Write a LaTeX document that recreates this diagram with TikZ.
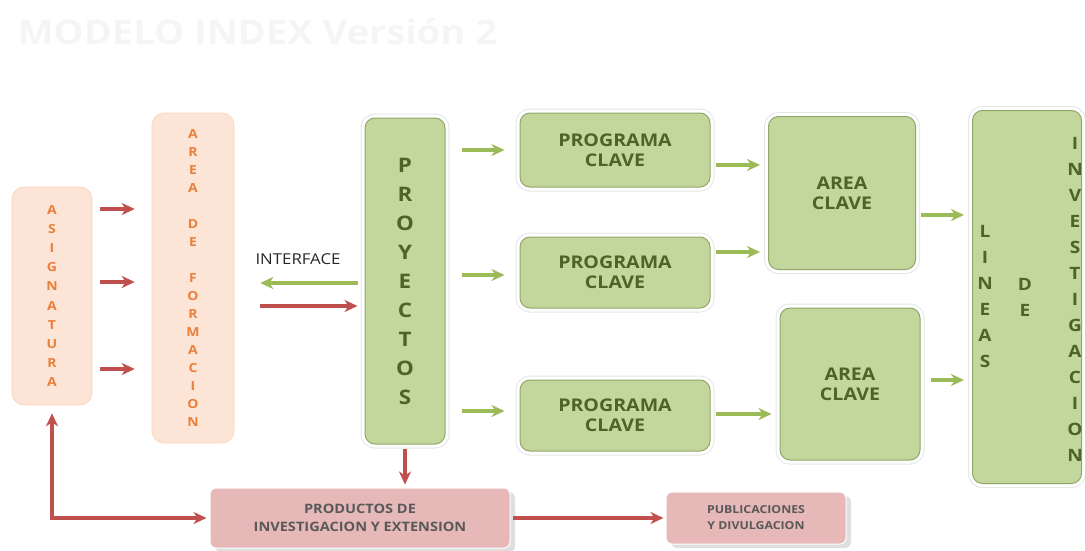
\documentclass[tikz,border=0pt]{standalone}
\usepackage{fontspec}
\setmainfont[FakeStretch=1.12]{Open Sans}
\usepackage{xcolor}
\usetikzlibrary{positioning,shadows,arrows.meta}
\definecolor{peach}{HTML}{FCE4D6}
\definecolor{peachtext}{HTML}{E9803A}
\definecolor{boxgreen}{HTML}{C3D69B}
\definecolor{greenedge}{HTML}{8FA869}
\definecolor{greentext}{HTML}{4F6228}
\definecolor{arrowgreen}{HTML}{9BBB59}
\definecolor{arrowred}{HTML}{C0504D}
\definecolor{boxpink}{HTML}{E6B9B8}
\definecolor{pinktext}{HTML}{595959}
\tikzset{>={Stealth[length=13pt,width=12pt,inset=4pt]}}

\begin{document}
\begin{tikzpicture}[x=1pt, y=-1pt,
peachnode/.style={rectangle, rounded corners=12pt, fill=peach, draw=peach!80!orange!90, line width=0.6pt, align=center, text=peachtext, font=\bfseries\fontsize{12.5}{18}\selectfont},
greennode/.style={rectangle, rounded corners=10pt, preaction={draw=black!10, line width=9pt}, preaction={draw=white, line width=7pt}, fill=boxgreen, draw=greenedge, line width=1pt, align=center, text=greentext, font=\bfseries\fontsize{17.5}{20}\selectfont},
pinknode/.style={rectangle, rounded corners=6pt, drop shadow={shadow xshift=5pt, shadow yshift=-4pt, opacity=0.25}, fill=boxpink, draw=white, line width=1pt, align=center, text=pinktext, font=\bfseries\fontsize{13}{18}\selectfont},
lettercol/.style={align=center, text=greentext, font=\bfseries\fontsize{17}{26}\selectfont},
greenarrow/.style={->, draw=arrowgreen, line width=3.2pt},
redarrow/.style={->, draw=arrowred, line width=3.2pt},
]
\useasboundingbox (0,0) rectangle (1085,551);

%Title
\node[text=black!4, font=\bfseries\fontsize{34}{40}\selectfont, anchor=west](Titulo) at (14,32){MODELO INDEX Versión 2};

%Nodes
\node[peachnode, minimum width=80pt, minimum height=218pt, font=\bfseries\fontsize{12.5}{19.2}\selectfont](Asignatura) at (52,296){A\\S\\I\\G\\N\\A\\T\\U\\R\\A};
\node[peachnode, minimum width=82pt, minimum height=330pt](Area de formacion) at (193,278){A\\R\\E\\A\\[18pt]D\\E\\[18pt]F\\O\\R\\M\\A\\C\\I\\O\\N};

\node[greennode, minimum width=80pt, minimum height=326pt, font=\bfseries\fontsize{20}{29}\selectfont](Proyectos) at (405,281){P\\R\\O\\Y\\E\\C\\T\\O\\S};

\node[greennode, minimum width=190pt, minimum height=74pt](Programa clave 1) at (615,150){PROGRAMA\\CLAVE};
\node[greennode, minimum width=190pt, minimum height=71pt](Programa clave 2)[below=49pt of Programa clave 1]{PROGRAMA\\CLAVE};
\node[greennode, minimum width=190pt, minimum height=71pt](Programa clave 3)[below=71pt of Programa clave 2]{PROGRAMA\\CLAVE};

\node[greennode, minimum width=147pt, minimum height=153pt](Area clave 1) at (842,193){AREA\\CLAVE};
\node[greennode, minimum width=140pt, minimum height=152pt](Area clave 2) at (850,384){AREA\\CLAVE};

\node[greennode, minimum width=109pt, minimum height=373pt](Lineas de investigacion) at (1027,297){};
\node[lettercol](Lineas) at ([xshift=-42pt]Lineas de investigacion.center){L\\I\\N\\E\\A\\S};
\node[lettercol](De) at ([xshift=-2pt]Lineas de investigacion.center){D\\E};
\node[lettercol](Investigacion) at ([xshift=48pt,yshift=-2pt]Lineas de investigacion.center){I\\N\\V\\E\\S\\T\\I\\G\\A\\C\\I\\O\\N};

\node[pinknode, minimum width=300pt, minimum height=60pt](Productos) at (360,518){PRODUCTOS DE\\INVESTIGACION Y EXTENSION};
\node[pinknode, minimum width=180pt, minimum height=52pt, font=\bfseries\fontsize{11}{16}\selectfont](Publicaciones)[right=155pt of Productos]{PUBLICACIONES\\Y DIVULGACION};

\node[text=black!85, font=\fontsize{15}{18}\selectfont](Interface) at (298,259){INTERFACE};

%Lines
\foreach \y in {209,282,369}
  \draw[redarrow, shorten <=8pt, shorten >=17pt] (Asignatura.east |- 0,\y) -- (Area de formacion.west |- 0,\y);

\draw[greenarrow, shorten <=7pt, shorten >=26pt] (Proyectos.west |- 0,283) -- (Area de formacion.east |- 0,283);
\draw[redarrow, shorten <=26pt, shorten >=7pt] (Area de formacion.east |- 0,306) -- (Proyectos.west |- 0,306);

\draw[greenarrow, shorten <=16pt, shorten >=15pt] (Proyectos.east |- Programa clave 1) -- (Programa clave 1.west);
\draw[greenarrow, shorten <=16pt, shorten >=15pt] (Proyectos.east |- 0,275) -- (Programa clave 2.west |- 0,275);
\draw[greenarrow, shorten <=16pt, shorten >=15pt] (Proyectos.east |- 0,411) -- (Programa clave 3.west |- 0,411);

\draw[greenarrow, shorten <=5pt, shorten >=8pt] (Programa clave 1.east |- 0,165) -- (Area clave 1.west |- 0,165);
\draw[greenarrow, shorten <=5pt, shorten >=8pt] (Programa clave 2.east |- 0,252) -- (Area clave 1.west |- 0,252);
\draw[greenarrow, shorten <=5pt, shorten >=8pt] (Programa clave 3.east |- 0,414) -- (Area clave 2.west |- 0,414);

\draw[greenarrow, shorten <=5pt, shorten >=8pt] (Area clave 1.east |- 0,215) -- (Lineas de investigacion.west |- 0,215);
\draw[greenarrow, shorten <=10pt, shorten >=8pt] (Area clave 2.east |- 0,380) -- (Lineas de investigacion.west |- 0,380);

\draw[redarrow, shorten <=4pt, shorten >=3pt] (Proyectos.south) -- (Proyectos.south |- Productos.north);
\draw[redarrow, shorten <=2pt, shorten >=2pt] (Productos.east) -- (Publicaciones.west);
\draw[redarrow, <->, shorten <=8pt, shorten >=3pt] (Asignatura.south) |- (Productos.west);
\end{tikzpicture}
\end{document}
